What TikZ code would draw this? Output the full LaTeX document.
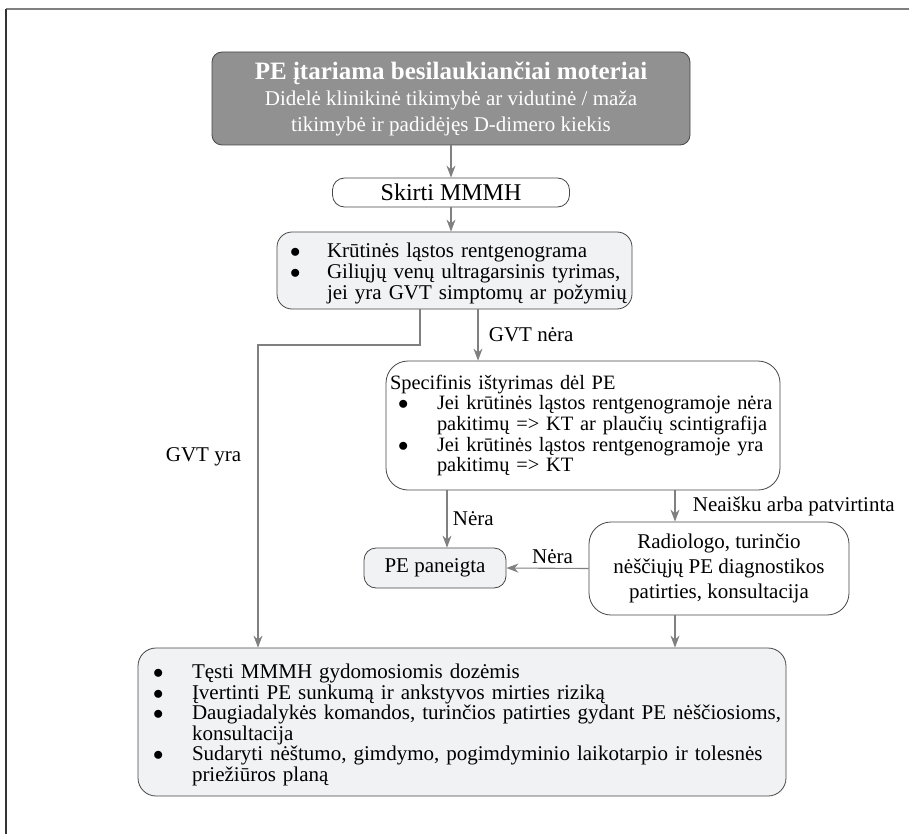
\documentclass[tikz,border=0pt]{standalone}
\usepackage{fontspec}
\setmainfont{Liberation Serif}
\usetikzlibrary{arrows.meta}
\definecolor{grisfonce}{RGB}{145,145,145}
\definecolor{grisclair}{RGB}{241,242,244}
\definecolor{bordure}{RGB}{70,70,70}
\definecolor{gristrait}{RGB}{128,128,128}
\hyphenpenalty=10000
\exhyphenpenalty=10000
% puce : décalage de la puce, retrait du texte, texte
\newcommand{\puce}[3]{\par\noindent\makebox[#2][l]{\hspace{#1}\smash{$\bullet$}}\mbox{#3}}
% suite : ligne suivante d'une puce
\newcommand{\suite}[2]{\par\noindent\makebox[#1]{}\mbox{#2}}

\begin{document}
\begin{tikzpicture}[x=1pt, y=-1pt, font=\fontsize{21}{21}\selectfont,
blocfonce/.style={rectangle, rounded corners=10pt, draw=bordure, fill=grisfonce, thick, text=white, align=center},
blocblanc/.style={rectangle, rounded corners=12pt, draw=bordure, fill=white, thick},
blocclair/.style={rectangle, rounded corners=15pt, draw=bordure, fill=grisclair, thick},
lien/.style={draw=gristrait, line width=1.1pt, -{Stealth[length=12pt,width=9pt]}},
]
    \useasboundingbox (0,0) rectangle (909,834);
    % Cadre
    \draw [gristrait, line width=2pt] (6,9) -- (909,9);
    \draw [black!80, line width=2pt] (6,9) -- (6,834);

    % Définition des blocs
    \node [blocfonce, minimum width=478pt, minimum height=93pt, font=\fontsize{21}{26}\selectfont] (suspicion) at (451,98.5)
        {{\bfseries\fontsize{25}{26}\selectfont PE įtariama besilaukiančiai moteriai}\\ Didelė klinikinė tikimybė ar vidutinė / maža\\ tikimybė ir padidėjęs D-dimero kiekis};
    \node [blocblanc, minimum width=237pt, minimum height=29pt, inner sep=0pt, font=\fontsize{24}{24}\selectfont] (mmmh) at (451,192.5) {Skirti MMMH};
    \node [blocclair, text width=345pt, inner xsep=5pt, inner ysep=0pt, minimum height=77pt, align=left] (radio) at (454.5,270.5)
        {\puce{8pt}{45pt}{Krūtinės ląstos rentgenograma}
         \puce{8pt}{45pt}{Giliųjų venų ultragarsinis tyrimas,}
         \suite{45pt}{jei yra GVT simptomų ar požymių}};
    \node [blocblanc, rounded corners=22pt, text width=386pt, inner xsep=4pt, inner ysep=0pt, minimum height=129pt, align=left, font=\fontsize{20.4}{20.6}\selectfont] (specifique) at (583,425.5)
        {Specifinis ištyrimas dėl PE
         \puce{8pt}{47pt}{\makebox[336pt][s]{Jei krūtinės ląstos rentgenogramoje nėra}}
         \suite{47pt}{pakitimų => KT ar plaučių scintigrafija}
         \puce{8pt}{47pt}{\makebox[336pt][s]{Jei krūtinės ląstos rentgenogramoje yra}}
         \suite{47pt}{pakitimų => KT}};
    \node [blocclair, rounded corners=12pt, minimum width=142pt, minimum height=40pt] (exclue) at (435,568) {PE paneigta};
    \node [blocblanc, rounded corners=22pt, minimum width=260pt, minimum height=93pt, align=center, font=\fontsize{21}{25}\selectfont] (consult) at (719,568.5)
        {Radiologo, turinčio\\ nėščiųjų PE diagnostikos\\ patirties, konsultacija};
    \node [blocclair, rounded corners=18pt, text width=622pt, inner xsep=13pt, inner ysep=0pt, minimum height=148pt, align=left, font=\fontsize{21}{20.5}\selectfont] (traitement) at (462,722)
        {\puce{2pt}{41pt}{Tęsti MMMH gydomosiomis dozėmis}
         \puce{2pt}{41pt}{Įvertinti PE sunkumą ir ankstyvos mirties riziką}
         \puce{2pt}{41pt}{\makebox[579pt][s]{Daugiadalykės komandos, turinčios patirties gydant PE nėščiosioms,}}
         \suite{41pt}{konsultacija}
         \puce{2pt}{41pt}{\makebox[579pt][s]{Sudaryti nėštumo, gimdymo, pogimdyminio laikotarpio ir tolesnės}}
         \suite{41pt}{priežiūros planą}};

    % Points de passage
    \coordinate (xyra) at (420,0);
    \coordinate (coude) at (258,345);
    \coordinate (xnera) at (478,0);
    \coordinate (xexclue) at (447,0);
    \coordinate (xdroite) at (675,0);

    % Définition des liens
    \draw [lien] (suspicion.south) -- (mmmh.north);
    \draw [lien] (mmmh.south) -- (mmmh.south |- radio.north);
    \draw [lien] (radio.south -| xyra) |- (coude) -- (coude |- traitement.north) node[pos=0.37, left=13pt] {GVT yra};
    \draw [lien] (radio.south -| xnera) -- (specifique.north -| xnera) node[midway, right=7pt] {GVT nėra};
    \draw [lien] (specifique.south -| xexclue) -- (exclue.north -| xexclue) node[midway, right=2pt] {Nėra};
    \draw [lien] (specifique.south -| xdroite) -- (consult.north -| xdroite) node[midway, right=14pt] {Neaišku arba patvirtinta};
    \draw [lien] (consult.west) -- (exclue.east) node[midway, above=1pt, xshift=5pt] {Nėra};
    \draw [lien] (consult.south -| xdroite) -- (traitement.north -| xdroite);
\end{tikzpicture}
\end{document}
